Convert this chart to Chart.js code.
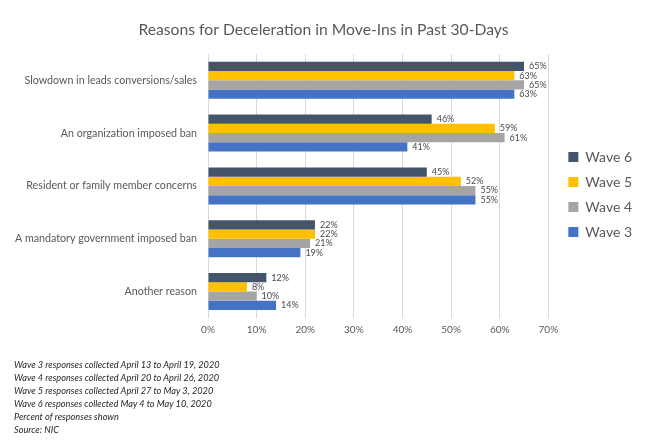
<!DOCTYPE html>
<html>
<head>
<meta charset="utf-8">
<script src="https://cdn.jsdelivr.net/npm/chart.js@4"></script>
<style>
  html, body { margin: 0; padding: 0; background: #fff; }
  #wrap { position: relative; width: 661px; height: 448px; }
  #notes { position: absolute; left: 14px; top: 358px; font-family: Lato, "Open Sans", sans-serif; font-style: italic; font-size: 9.2px; line-height: 13px; color: #262626; }
</style>
</head>
<body>
<div id="wrap">
  <canvas id="c" width="661" height="448"></canvas>
  <div id="notes">
    Wave 3 responses collected April 13 to April 19, 2020<br>
    Wave 4 responses collected April 20 to April 26, 2020<br>
    Wave 5 responses collected April 27 to May 3, 2020<br>
    Wave 6 responses collected May 4 to May 10, 2020<br>
    Percent of responses shown<br>
    Source: NIC
  </div>
</div>
<script>
const categories = [
  "Slowdown in leads conversions/sales",
  "An organization imposed ban",
  "Resident or family member concerns",
  "A mandatory government imposed ban",
  "Another reason"
];
const wave6 = [65, 46, 45, 22, 12];
const wave5 = [63, 59, 52, 22, 8];
const wave4 = [65, 61, 55, 21, 10];
const wave3 = [63, 41, 55, 19, 14];
const seriesNames = ["Wave 6", "Wave 5", "Wave 4", "Wave 3"];
const seriesColors = ["#44546A", "#FFC000", "#A5A5A5", "#4472C4"];
const xTicks = [0, 10, 20, 30, 40, 50, 60, 70];

const FONT = "Lato, 'Open Sans', sans-serif";
const TXT = "#595959";

const valueLabels = {
  id: "valueLabels",
  afterDatasetsDraw(chart) {
    const ctx = chart.ctx;
    ctx.save();
    ctx.font = "9px " + FONT;
    ctx.fillStyle = "#4a4a4a";
    ctx.textAlign = "left";
    ctx.textBaseline = "middle";
    chart.data.datasets.forEach((ds, i) => {
      const meta = chart.getDatasetMeta(i);
      meta.data.forEach((bar, j) => {
        ctx.fillText(ds.data[j] + "%", bar.x + 5, bar.y);
      });
    });
    ctx.restore();
  }
};

const allSeries = [wave6, wave5, wave4, wave3];
new Chart(document.getElementById("c"), {
  type: "bar",
  data: {
    labels: categories,
    datasets: allSeries.map((d, i) => ({
      label: seriesNames[i],
      data: d,
      backgroundColor: seriesColors[i],
      borderWidth: 0,
      barPercentage: 1.0,
      categoryPercentage: 0.7
    }))
  },
  options: {
    indexAxis: "y",
    responsive: false,
    animation: false,
    devicePixelRatio: 1,
    layout: { padding: { left: 5, right: 19, top: 8, bottom: 106 } },
    plugins: {
      title: {
        display: true,
        text: "Reasons for Deceleration in Move-Ins in Past 30-Days",
        color: TXT,
        font: { family: FONT, size: 15.7, weight: "normal" },
        padding: { top: 13, bottom: 14 }
      },
      legend: {
        position: "right",
        align: "start",
        title: { display: true, text: " ", font: { size: 10 }, padding: { top: 119, bottom: 0 } },
        labels: {
          color: TXT,
          font: { family: FONT, size: 14 },
          boxWidth: 10,
          boxHeight: 10,
          padding: 11
        }
      },
      tooltip: { enabled: false }
    },
    scales: {
      x: {
        min: 0,
        max: 70,
        afterBuildTicks(axis) { axis.ticks = xTicks.map(v => ({ value: v })); },
        ticks: {
          color: TXT,
          font: { family: FONT, size: 10 },
          callback: v => v + "%",
          padding: 6
        },
        grid: { color: "#D9D9D9", drawTicks: false },
        border: { display: false }
      },
      y: {
        afterFit(axis) { axis.width = 203; },
        ticks: {
          color: TXT,
          font: { family: FONT, size: 10.7 },
          padding: 11
        },
        grid: { display: false, drawTicks: false },
        border: { display: false }
      },
      ySpacer: {
        type: "category",
        position: "right",
        display: true,
        ticks: { display: false },
        grid: { display: false, drawTicks: false },
        border: { display: false },
        afterFit(axis) { axis.width = 9; }
      }
    }
  },
  plugins: [valueLabels]
});
</script>
</body>
</html>
